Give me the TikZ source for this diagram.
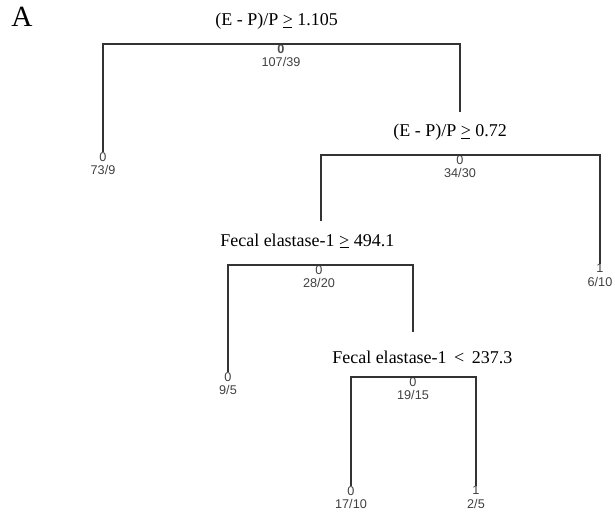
\documentclass[tikz,border=0pt]{standalone}
\usepackage{fontspec}
\setmainfont{Liberation Serif}
\setsansfont{Liberation Sans}
\usetikzlibrary{positioning}
\newcommand{\geqbar}{\rlap{\hspace{0.04em}\rule[-0.13em]{0.48em}{0.055em}}>}
\tikzset{
  cond/.style={font=\fontsize{13.5}{15}\selectfont,inner sep=0pt,anchor=west},
  cls/.style={font=\sffamily\fontsize{9.5}{10}\selectfont,inner sep=0pt,anchor=north,text=black!75},
  cnt/.style={font=\sffamily\fontsize{9.5}{10}\selectfont,inner sep=0pt,text=black!75},
  branch/.style={line width=0.85pt,draw=black!80},
}

\begin{document}
\begin{tikzpicture}[x=0.75pt,y=-0.75pt]
\useasboundingbox (0,0) rectangle (615,515);
\node[font=\fontsize{22}{24}\selectfont,inner sep=0pt] (panel) at (22,17) {A};
% split conditions
\node[cond] (q1) at (215,21) {(E - P)/P \geqbar\ 1.105};
\node[cond] (q3) at (393,132) {(E - P)/P \geqbar\ 0.72};
\node[cond] (q7) at (220,241) {Fecal elastase-1 \geqbar\ 494.1};
\node[cond] (q15) at (332,357) {Fecal elastase-1 \,<\, 237.3};
% tree nodes
\node[cls,font=\sffamily\bfseries\fontsize{9.5}{10}\selectfont,text=black!70] (n1) at (281,44) {0};
\node[cls] (n2) at (103,152) {0};
\node[cls] (n3) at (460,155) {0};
\node[cls] (n6) at (600,264) {1};
\node[cls] (n7) at (319,265) {0};
\node[cls] (n14) at (228,372) {0};
\node[cls] (n15) at (413,377) {0};
\node[cls] (n30) at (351,486) {0};
\node[cls] (n31) at (476,486) {1};
\coordinate (n3top) at (460,112);
\coordinate (n7top) at (321,221);
\coordinate (n15top) at (413,332);
% counts
\node[cnt,below=3pt of n1] (c1) {107/39};
\node[cnt,below=3pt of n2] (c2) {73/9};
\node[cnt,below=3pt of n3] (c3) {34/30};
\node[cnt,below=3pt of n6] (c6) {6/10};
\node[cnt,below=3pt of n7] (c7) {28/20};
\node[cnt,below=3pt of n14] (c14) {9/5};
\node[cnt,below=3pt of n15] (c15) {19/15};
\node[cnt,below=3pt of n30] (c30) {17/10};
\node[cnt,below=3pt of n31] (c31) {2/5};
% branches
\draw[branch] (n2.north) |- (n1.north) -| (n3top);
\draw[branch] (n7top) |- (n3.north) -| (n6.north);
\draw[branch] (n14.north) |- (n7.north) -| (n15top);
\draw[branch] (n30.north) |- (n15.north) -| (n31.north);
\end{tikzpicture}
\end{document}
